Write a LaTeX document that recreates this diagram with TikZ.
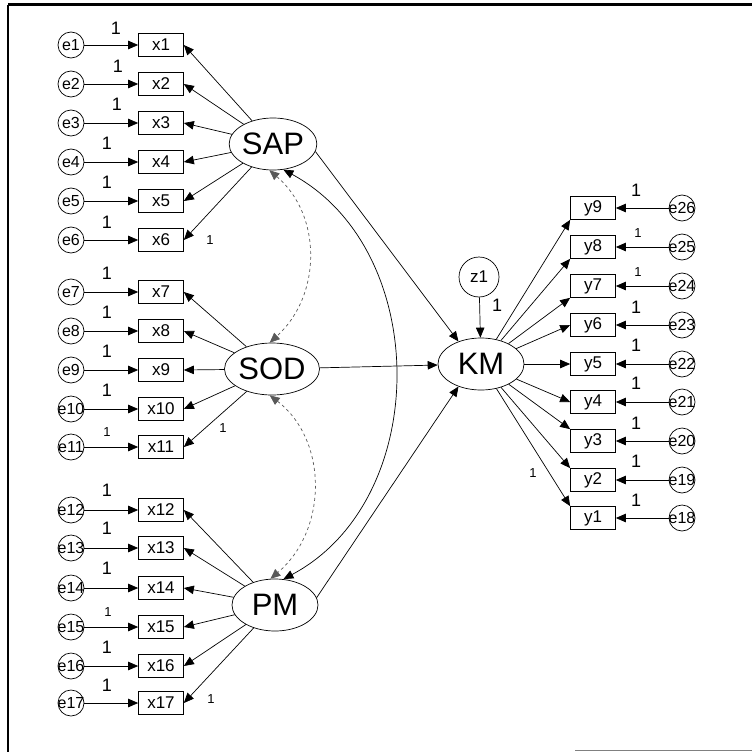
\documentclass[tikz,border=0pt]{standalone}
\usepackage{fontspec}
\setmainfont{Liberation Sans}
\usetikzlibrary{arrows.meta,shapes.geometric}

\begin{document}
\begin{tikzpicture}[x=1pt,y=-1pt,>={Triangle[length=10pt,width=8.5pt]},line width=0.7pt,
  obs/.style={draw,minimum width=45pt,minimum height=23pt,inner sep=0pt,font=\fontsize{17}{17}\selectfont},
  err/.style={draw,circle,minimum size=26pt,inner sep=-3pt,font=\fontsize{16}{16}\selectfont},
  lat/.style={draw,ellipse,minimum width=86pt,minimum height=52pt,inner sep=0pt,font=\fontsize{31}{31}\selectfont},
  one/.style={inner sep=0pt,font=\fontsize{18}{18}\selectfont},
  sone/.style={inner sep=0pt,font=\fontsize{13}{13}\selectfont},
  cov/.style={<->,dashed,gray!70!black}]
\useasboundingbox (0,0) rectangle (752,752);
% frame
\draw[line width=3pt] (8,5) -- (752,5);
\draw[line width=1.5pt] (8,5) -- (8,752);
\draw[gray,line width=1pt] (575,750) -- (752,750);
% latent variables
\node[lat] (SAP) at (273,144) {SAP};
\node[lat] (SOD) at (272,369) {SOD};
\node[lat] (PM) at (275,605) {PM};
\node[lat] (KM) at (481,364) {KM};
\node[err,minimum size=40pt,font=\fontsize{17}{17}\selectfont] (z1) at (479,277) {z1};
% left indicators with errors
\foreach \i/\y in {1/45,2/84,3/123,4/162,5/201,6/240,7/292,8/331,9/370,10/409,11/447,
  12/510,13/548,14/588,15/627,16/666,17/703}{
  \node[err] (e\i) at (71,\y) {e\i};
  \node[obs] (x\i) at (161,\y) {x\i};
  \draw[->] (e\i) -- (x\i);
}
\foreach \lx/\ly in {116/28,118/66,117/104,107/143,107/182,107/222,107/273,107/312,107/351,107/390,
  107/490,107/528,107/568,107/647,107/685}
  \node[one] at (\lx,\ly) {1};
\node[sone] at (107,432) {1};
\node[sone] at (108,612) {1};
% right indicators with errors
\foreach \i/\j/\y in {9/26/208,8/25/247,7/24/286,6/23/325,5/22/364,4/21/402,3/20/441,2/19/480,1/18/518}{
  \node[obs] (y\i) at (593,\y) {y\i};
  \node[err] (e\j) at (682,\y) {e\j};
  \draw[->] (e\j) -- (y\i);
}
\foreach \ly in {190,307,345,383,423,461,500}
  \node[one] at (636,\ly) {1};
\node[sone] at (638,233) {1};
\node[sone] at (638,272) {1};
% loadings
\foreach \i in {1,...,6} \draw[->] (SAP) -- (x\i.east);
\foreach \i in {7,...,11} \draw[->] (SOD) -- (x\i.east);
\foreach \i in {12,...,17} \draw[->] (PM) -- (x\i.east);
\foreach \i/\a in {9/south west,8/south west,7/south west,6/west,5/west,4/west,3/north west,2/north west,1/north west}
  \draw[->] (KM) -- (y\i.\a);
\node[sone] at (210,240) {1};
\node[sone] at (223,428) {1};
\node[sone] at (211,699) {1};
\node[sone] at (533,473) {1};
% structural paths
\draw[->] (SAP.-10) -- (KM.135);
\draw[->] (SOD) -- (KM);
\draw[->] (PM.10) -- (KM.225);
\draw[->] (z1) -- (KM);
\node[one] at (497,305) {1};
% covariances
\draw[cov] (SAP.262) .. controls (322,215) and (322,295) .. (SOD.95);
\draw[cov] (SOD.265) .. controls (328,440) and (328,530) .. (PM.100);
\draw[<->] (SAP.292) .. controls (432,250) and (432,500) .. (PM.72);
\end{tikzpicture}
\end{document}
